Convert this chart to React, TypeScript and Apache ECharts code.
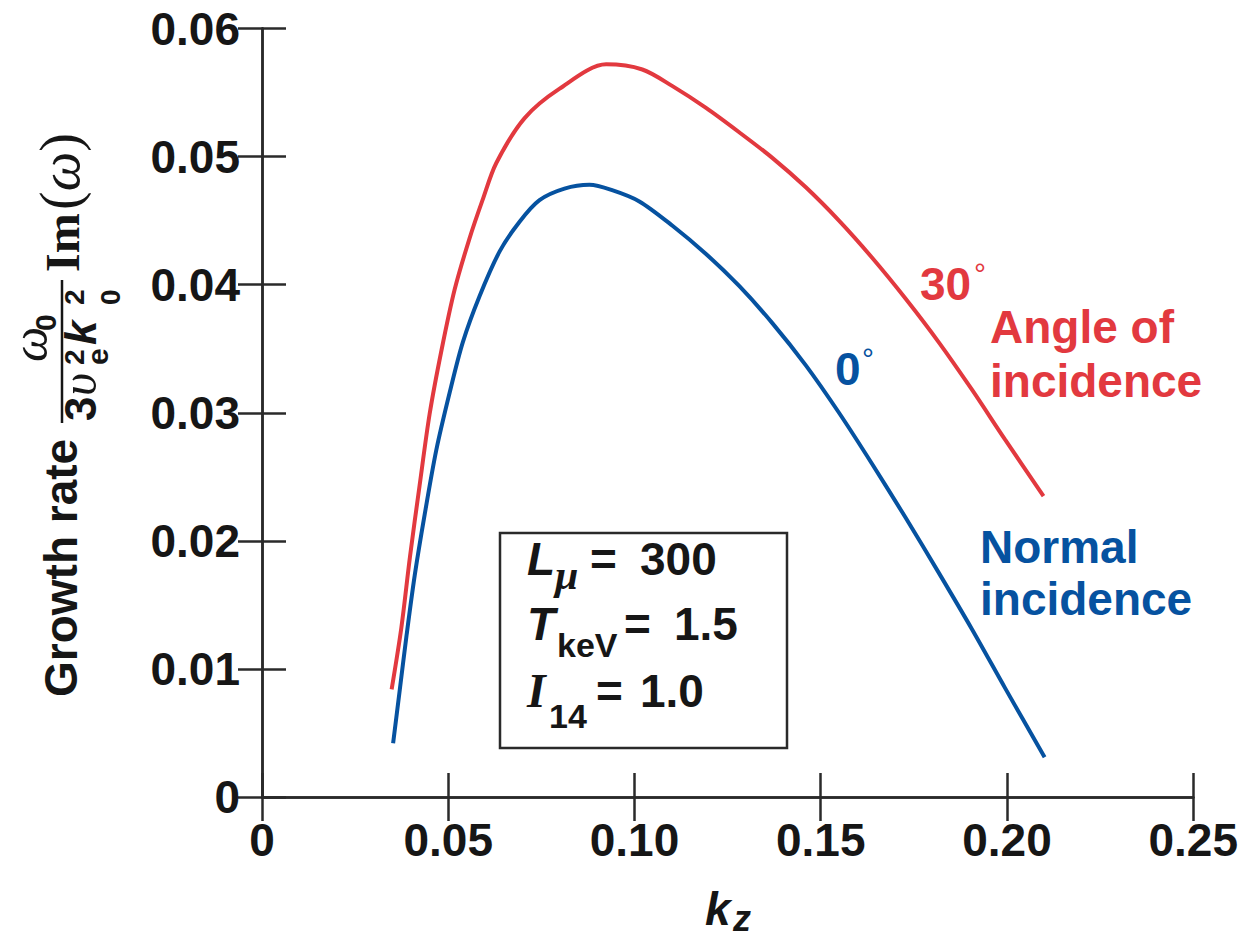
import React, { useEffect, useRef } from "react";
import * as echarts from "echarts";

// k_z values and growth rates
const kRed = [0.0348, 0.0374, 0.0397, 0.0423, 0.0450, 0.0482, 0.0517, 0.0557, 0.0592, 0.0629, 0.0705, 0.0799, 0.0924, 0.1021, 0.1102, 0.1192, 0.1281, 0.1370, 0.1460, 0.1549, 0.1638, 0.1728, 0.1817, 0.1906, 0.1995, 0.2098];
const gRed = [0.0084, 0.0132, 0.0187, 0.0243, 0.0299, 0.0349, 0.0396, 0.0436, 0.0466, 0.0495, 0.0530, 0.0553, 0.0572, 0.0568, 0.0555, 0.0538, 0.0519, 0.0499, 0.0476, 0.0450, 0.0421, 0.0389, 0.0355, 0.0318, 0.0279, 0.0235];
const kBlue = [0.0352, 0.0370, 0.0388, 0.0410, 0.0437, 0.0468, 0.0504, 0.0539, 0.0584, 0.0638, 0.0691, 0.0745, 0.0812, 0.0879, 0.0938, 0.1013, 0.1102, 0.1192, 0.1281, 0.1370, 0.1460, 0.1549, 0.1638, 0.1728, 0.1817, 0.1906, 0.1995, 0.2101];
const gBlue = [0.0042, 0.0084, 0.0126, 0.0173, 0.0221, 0.0271, 0.0316, 0.0355, 0.0391, 0.0426, 0.0449, 0.0466, 0.0475, 0.0478, 0.0474, 0.0465, 0.0446, 0.0424, 0.0399, 0.0370, 0.0337, 0.0300, 0.0260, 0.0218, 0.0175, 0.0131, 0.0085, 0.0031];

const xTicks = { min: 0, max: 0.25, interval: 0.05 };
const yTicks = { min: 0, max: 0.06, interval: 0.01 };

const RED = "#e2393f";
const BLUE = "#0652a0";
const INK = "#161616";
const AX = "#2a2a2a";
const SANS = "Liberation Sans";
const SERIF = "Liberation Serif";

type TOpts = { weight?: string; style?: string; family?: string; align?: string; rich?: any };

function txt(text: string, x: number, baseline: number, size: number, color: string, o: TOpts = {}) {
  const align = o.align ?? "left";
  const style: any = {
    text,
    fontSize: size,
    fontWeight: o.weight ?? "bold",
    fontStyle: o.style ?? "normal",
    fontFamily: o.family ?? SANS,
    fill: color,
    align,
    textAlign: align,
    verticalAlign: "middle",
    textVerticalAlign: "middle",
  };
  if (o.rich) style.rich = o.rich;
  return { type: "text", x, y: baseline - 0.3465 * size, silent: true, style };
}

export default function App() {
  const ref = useRef<HTMLDivElement>(null);

  useEffect(() => {
    if (!ref.current) return;
    const chart = echarts.init(ref.current, undefined, { renderer: "svg" });

    const fmt = (v: number) => (v === 0 ? "0" : v.toFixed(2));
    const tickStyle = { inside: true, length: 24, lineStyle: { color: AX, width: 2.5 } };
    const lineStyle = { show: true, lineStyle: { color: AX, width: 2.5 } };
    const labelStyle = { fontSize: 46, fontWeight: "bold", fontFamily: SANS, color: INK };

    // y-axis title, rotated (local x runs upward from screen y = 797, local y = screen x)
    const yTitle = {
      type: "group",
      x: -3,
      y: 797,
      rotation: Math.PI / 2,
      children: [
        txt("Growth rate", 100, 80, 46, INK),
        { type: "line", silent: true, shape: { x1: 374, y1: 65, x2: 517, y2: 65 }, style: { stroke: INK, lineWidth: 2.5 } },
        txt("ω", 435, 50, 50, INK, { family: SERIF, style: "italic", weight: "normal" }),
        txt("0", 466, 59, 30, INK),
        txt("3", 376, 99, 44, INK),
        txt("υ", 401, 99, 50, INK, { family: SERIF, style: "italic", weight: "normal" }),
        txt("2", 432, 87, 28, INK),
        txt("e", 432, 111, 30, INK),
        txt("k", 452, 99, 44, INK, { style: "italic" }),
        txt("2", 492, 87, 28, INK),
        txt("0", 492, 123, 28, INK),
        txt("Im", 525, 82, 48, INK, { family: SERIF }),
        txt("{p|(}{w|ω}{p|)}", 587, 82, 56, INK, {
          family: SERIF,
          weight: "normal",
          rich: {
            p: { fontFamily: SERIF, fontSize: 56, fontWeight: "normal", fill: INK, color: INK },
            w: { fontFamily: SERIF, fontSize: 56, fontStyle: "italic", fontWeight: "normal", fill: INK, color: INK },
          },
        }),
      ],
    };

    const graphics: any[] = [
      yTitle,
      // x-axis title k_z
      txt("k", 705, 925, 46, INK, { style: "italic" }),
      txt("z", 733, 931, 36, INK, { style: "italic" }),
      // parameter box
      { type: "rect", silent: true, shape: { x: 500, y: 533, width: 287, height: 215 }, style: { fill: "#fff", stroke: AX, lineWidth: 2.5 } },
      txt("L", 527, 575, 46, INK, { style: "italic" }),
      txt("μ", 555, 590, 42, INK, { family: SERIF, style: "italic", weight: "bold" }),
      txt("=", 590, 575, 46, INK),
      txt("300", 640, 575, 46, INK),
      txt("T", 527, 640, 46, INK, { style: "italic" }),
      txt("keV", 557, 657, 34, INK),
      txt("=", 624, 640, 46, INK),
      txt("1.5", 674, 640, 46, INK),
      txt("I", 527, 707, 48, INK, { family: SERIF, style: "italic", weight: "bold" }),
      txt("14", 549, 728, 34, INK),
      txt("=", 596, 707, 46, INK),
      txt("1.0", 640, 707, 46, INK),
      // series annotations
      txt("30", 920, 300, 46, RED),
      txt("°", 974, 284, 30, RED, { weight: "normal" }),
      txt("Angle of", 990, 343, 46, RED),
      txt("incidence", 990, 397, 46, RED),
      txt("0", 835, 385, 46, BLUE),
      txt("°", 862, 369, 30, BLUE, { weight: "normal" }),
      txt("Normal", 980, 563, 46, BLUE),
      txt("incidence", 980, 615, 46, BLUE),
    ];

    chart.setOption({
      animation: false,
      backgroundColor: "#ffffff",
      textStyle: { fontFamily: SANS },
      grid: { left: 262, right: 46, top: 28.5, bottom: 142, containLabel: false },
      xAxis: [
        {
          type: "value", position: "bottom", ...xTicks,
          axisLine: lineStyle, axisTick: tickStyle, splitLine: { show: false },
          axisLabel: { ...labelStyle, margin: 20, formatter: fmt },
        },
        {
          type: "value", position: "top", ...xTicks,
          axisLine: lineStyle, axisTick: tickStyle, splitLine: { show: false },
          axisLabel: { show: false },
        },
      ],
      yAxis: [
        {
          type: "value", position: "left", ...yTicks,
          axisLine: lineStyle, axisTick: tickStyle, splitLine: { show: false },
          axisLabel: { ...labelStyle, margin: 22, formatter: fmt },
        },
        {
          type: "value", position: "right", ...yTicks,
          axisLine: lineStyle, axisTick: tickStyle, splitLine: { show: false },
          axisLabel: { show: false },
        },
      ],
      series: [
        {
          name: "30°",
          type: "line",
          showSymbol: false,
          smooth: 0.3,
          data: kRed.map((k, i) => [k, gRed[i]]),
          lineStyle: { color: RED, width: 4 },
          itemStyle: { color: RED },
        },
        {
          name: "0°",
          type: "line",
          showSymbol: false,
          smooth: 0.3,
          data: kBlue.map((k, i) => [k, gBlue[i]]),
          lineStyle: { color: BLUE, width: 4 },
          itemStyle: { color: BLUE },
        },
      ],
      graphic: graphics,
    });

    return () => chart.dispose();
  }, []);

  return <div ref={ref} style={{ position: "fixed", left: 0, top: 0, width: 1241, height: 939, background: "#fff" }} />;
}
